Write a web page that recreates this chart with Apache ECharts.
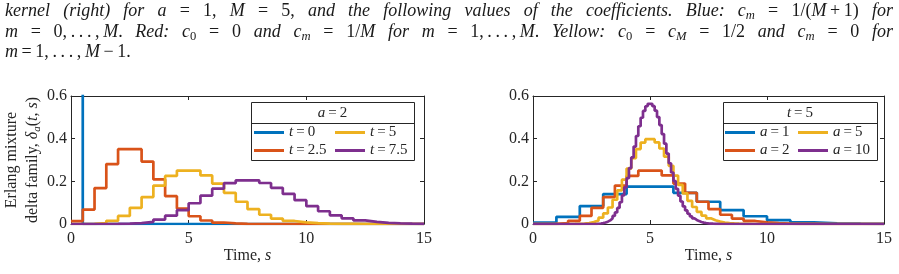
<!DOCTYPE html>
<html><head><meta charset="utf-8">
<script src="https://cdn.jsdelivr.net/npm/echarts@6/dist/echarts.min.js"></script>
<style>
html,body{margin:0;padding:0;background:#fff;}
#wrap{position:relative;width:899px;height:274px;overflow:hidden;}
#chart{position:absolute;left:0;top:0;width:899px;height:274px;}
.ln{position:absolute;left:5px;width:888px;height:20px;line-height:20px;font-family:'Liberation Serif','Times New Roman',Times,serif;font-size:18px;color:#1a1a1a;text-align:justify;text-align-last:justify;overflow:hidden;}
.ln.last{text-align-last:left;}
.ln sub{font-size:70%;vertical-align:-0.25em;line-height:0;}
.ln i{font-style:italic;font-family:'Liberation Serif','Times New Roman',Times,serif;}
</style>
</head><body>
<div id="wrap">
<div id="chart"></div>
<div class="ln" style="top:0px"><i>kernel (right) for</i> <i>a</i> = 1, <i>M</i> = 5, <i>and the following values of the coefficients. Blue:</i> <i>c<sub>m</sub></i> = 1/(<i>M</i>&#8201;+&#8201;1) <i>for</i></div>
<div class="ln" style="top:21px"><i>m</i> = 0,&#8201;.&#8201;.&#8201;.&#8201;,&#8201;<i>M</i>. <i>Red:</i> <i>c</i><sub>0</sub> = 0 <i>and</i> <i>c<sub>m</sub></i> = 1/<i>M</i> <i>for</i> <i>m</i> = 1,&#8201;.&#8201;.&#8201;.&#8201;,&#8201;<i>M</i>. <i>Yellow:</i> <i>c</i><sub>0</sub> = <i>c<sub>M</sub></i> = 1/2 <i>and</i> <i>c<sub>m</sub></i> = 0 <i>for</i></div>
<div class="ln last" style="top:40.5px"><i>m</i>&#8201;=&#8201;1,&#8201;.&#8201;.&#8201;.&#8201;,&#8201;<i>M</i>&#8201;&#8722;&#8201;1.</div>
</div>
<script>
// ---- data (step heights) ----
const COLORS = ['#0072BD', '#D95319', '#EDB120', '#7E2F8E'];
const xMax = 15;

// Left panel: a = 2, step width 0.5
const leftNames = ['t = 0', 't = 2.5', 't = 5', 't = 7.5'];
const leftStep = 0.5;
const leftT0 = [2];
const leftT25 = [0.0135, 0.0674, 0.1685, 0.2808, 0.3509, 0.3509, 0.2924, 0.2089, 0.1305, 0.0725, 0.0363, 0.0165, 0.0069, 0.0026, 0.0009];
const leftT5 = [0.0001, 0.0009, 0.0045, 0.0151, 0.0378, 0.0757, 0.1261, 0.1802, 0.2252, 0.2503, 0.2503, 0.2275, 0.1896, 0.1459, 0.1042, 0.0695, 0.0434, 0.0255, 0.0142, 0.0075, 0.0037, 0.0018, 0.0008, 0.0004];
const leftT75 = [0, 0, 0, 0.0003, 0.0013, 0.0039, 0.0097, 0.0207, 0.0389, 0.0648, 0.0972, 0.1326, 0.1657, 0.1912, 0.2049, 0.2049, 0.1921, 0.1695, 0.1412, 0.1115, 0.0836, 0.0597, 0.0407, 0.0266, 0.0166, 0.0100, 0.0057, 0.0032, 0.0017, 0.0009];

// Right panel: t = 5, step width 1/a; first index of each list
const rightNames = ['a = 1', 'a = 2', 'a = 5', 'a = 10'];
const rightSteps = [1, 0.5, 0.2, 0.1];
const rightFirstIndex = [0, 0, 8, 27];
const rightA1 = [0.0067, 0.0337, 0.0842, 0.1404, 0.1755, 0.1755, 0.1462, 0.1044, 0.0653, 0.0363, 0.0181, 0.0082, 0.0034, 0.0013, 0.0005];
const rightA2 = [0.0001, 0.0009, 0.0045, 0.0151, 0.0378, 0.0757, 0.1261, 0.1802, 0.2252, 0.2503, 0.2503, 0.2275, 0.1896, 0.1459, 0.1042, 0.0695, 0.0434, 0.0255, 0.0142, 0.0075, 0.0037, 0.0018, 0.0008, 0.0004];
const rightA5 = [0.0003, 0.0007, 0.0018, 0.0042, 0.0087, 0.0166, 0.0297, 0.0494, 0.0773, 0.1137, 0.1579, 0.2077, 0.2596, 0.3090, 0.3512, 0.3817, 0.3976, 0.3976, 0.3823, 0.3540, 0.3161, 0.2725, 0.2271, 0.1831, 0.1431, 0.1084, 0.0797, 0.0569, 0.0396, 0.0267, 0.0176, 0.0113, 0.0071, 0.0043, 0.0026, 0.0015, 0.0009, 0.0005];
const rightA10 = [0.0013, 0.0024, 0.0041, 0.0068, 0.0109, 0.0171, 0.0259, 0.0380, 0.0543, 0.0755, 0.1020, 0.1342, 0.1720, 0.2150, 0.2622, 0.3121, 0.3629, 0.4124, 0.4583, 0.4981, 0.5299, 0.5520, 0.5633, 0.5633, 0.5523, 0.5310, 0.5010, 0.4639, 0.4217, 0.3766, 0.3303, 0.2848, 0.2413, 0.2011, 0.1648, 0.1329, 0.1055, 0.0824, 0.0634, 0.0480, 0.0358, 0.0263, 0.0191, 0.0136, 0.0096, 0.0067, 0.0046, 0.0031, 0.0021, 0.0014, 0.0009, 0.0006];

// ---- build step-line data ----
function stepData(vals, w, k0) {
  const n = Math.round(xMax / w);
  const d = [];
  for (let k = 0; k < n; k++) {
    const i = k - k0;
    const v = (i >= 0 && i < vals.length) ? vals[i] : 0;
    d.push([+(k * w).toFixed(4), v]);
  }
  d.push([xMax, d[d.length - 1][1]]);
  return d;
}

const FONT = '"Liberation Serif", "Times New Roman", serif';
const INK = '#262626';

function mkX(gi, pos, labels) {
  return {
    type: 'value', gridIndex: gi, position: pos, min: 0, max: xMax, interval: 5,
    axisLine: { show: true, onZero: false, lineStyle: { color: INK, width: 1 } },
    axisTick: { show: true, inside: true, length: 4, lineStyle: { color: INK } },
    axisLabel: { show: labels, margin: 7, fontFamily: FONT, fontSize: 16, color: INK },
    splitLine: { show: false }
  };
}
function mkY(gi, pos, labels) {
  return {
    type: 'value', gridIndex: gi, position: pos, min: 0, max: 0.6, interval: 0.2,
    axisLine: { show: true, onZero: false, lineStyle: { color: INK, width: 1 } },
    axisTick: { show: true, inside: true, length: 4, lineStyle: { color: INK } },
    axisLabel: { show: labels, margin: 4, fontFamily: FONT, fontSize: 16, color: INK },
    splitLine: { show: false }
  };
}

const xAxes = [mkX(0, 'bottom', true), mkX(0, 'top', false), mkX(1, 'bottom', true), mkX(1, 'top', false)];
const yAxes = [mkY(0, 'left', true), mkY(0, 'right', false), mkY(1, 'left', true), mkY(1, 'right', false)];
function timeName() {
  return {
    name: 'Time, {i|s}', nameLocation: 'middle', nameGap: 24,
    nameTextStyle: { fontFamily: FONT, fontSize: 16, color: INK,
      rich: { i: { fontFamily: FONT, fontSize: 16, fontStyle: 'italic', color: INK } } }
  };
}
Object.assign(xAxes[0], timeName());
Object.assign(xAxes[2], timeName());
Object.assign(yAxes[0], {
  name: 'Erlang mixture\ndelta family, {i|δ}{sub|a}({i|t}, {i|s})',
  nameLocation: 'middle', nameGap: 28, nameRotate: 90,
  nameTextStyle: {
    fontFamily: FONT, fontSize: 16, color: INK, lineHeight: 21,
    rich: {
      i: { fontFamily: FONT, fontSize: 16, fontStyle: 'italic', color: INK, lineHeight: 21 },
      sub: { fontFamily: FONT, fontSize: 11, fontStyle: 'italic', color: INK, lineHeight: 11, verticalAlign: 'bottom' }
    }
  }
});

const leftVals = [leftT0, leftT25, leftT5, leftT75];
const rightVals = [rightA1, rightA2, rightA5, rightA10];
const series = [];
leftVals.forEach((v, i) => series.push({
  name: leftNames[i], type: 'line', step: 'end', xAxisIndex: 0, yAxisIndex: 0,
  data: stepData(v, leftStep, 0), showSymbol: false, symbol: 'none', animation: false,
  lineStyle: { color: COLORS[i], width: 2.7 }, itemStyle: { color: COLORS[i] }
}));
rightVals.forEach((v, i) => series.push({
  name: rightNames[i], type: 'line', step: 'end', xAxisIndex: 2, yAxisIndex: 2,
  data: stepData(v, rightSteps[i], rightFirstIndex[i]), showSymbol: false, symbol: 'none', animation: false,
  lineStyle: { color: COLORS[i], width: 2.7 }, itemStyle: { color: COLORS[i] }
}));

function mkLegend(names, left) {
  return {
    data: names, orient: 'vertical', left: left, top: 125, padding: 0, itemGap: 3,
    icon: 'rect', itemWidth: 30, itemHeight: 3, selectedMode: false, z: 10,
    formatter: n => n.replace(/^(\w) = /, '{i|$1}\u2009=\u2009'),
    textStyle: { fontFamily: FONT, fontSize: 15, color: INK, lineHeight: 15,
      rich: { i: { fontFamily: FONT, fontSize: 15, fontStyle: 'italic', color: INK, lineHeight: 15 } } }
  };
}

function legendBox(x0, x1, title) {
  return [
    { type: 'rect', z: 5, shape: { x: x0 + 0.5, y: 102.5, width: x1 - x0, height: 58 },
      style: { fill: '#fff', stroke: INK, lineWidth: 1 } },
    { type: 'line', z: 6, shape: { x1: x0 + 0.5, y1: 123.5, x2: x1 + 0.5, y2: 123.5 },
      style: { stroke: INK, lineWidth: 1 } },
    { type: 'text', z: 6, x: (x0 + x1) / 2, y: 113,
      style: { text: title, align: 'center', verticalAlign: 'middle', font: '15px ' + FONT, fill: INK,
        rich: { i: { fontFamily: FONT, fontSize: 15, fontStyle: 'italic', fill: INK } } } }
  ];
}

const chart = echarts.init(document.getElementById('chart'), null, { renderer: 'canvas' });
chart.setOption({
  animation: false,
  backgroundColor: '#fff',
  grid: [
    { left: 71, right: 475, top: 96, bottom: 50 },
    { left: 533, right: 15, top: 96, bottom: 50 }
  ],
  xAxis: xAxes,
  yAxis: yAxes,
  legend: [
    mkLegend([leftNames[0], leftNames[1]], 254),
    mkLegend([leftNames[2], leftNames[3]], 335),
    mkLegend([rightNames[0], rightNames[1]], 725),
    mkLegend([rightNames[2], rightNames[3]], 798)
  ],
  graphic: [].concat(legendBox(251, 414, '{i|a}\u2009=\u20092'), legendBox(723, 877, '{i|t}\u2009=\u20095')),
  series: series
});
</script>
</body></html>
